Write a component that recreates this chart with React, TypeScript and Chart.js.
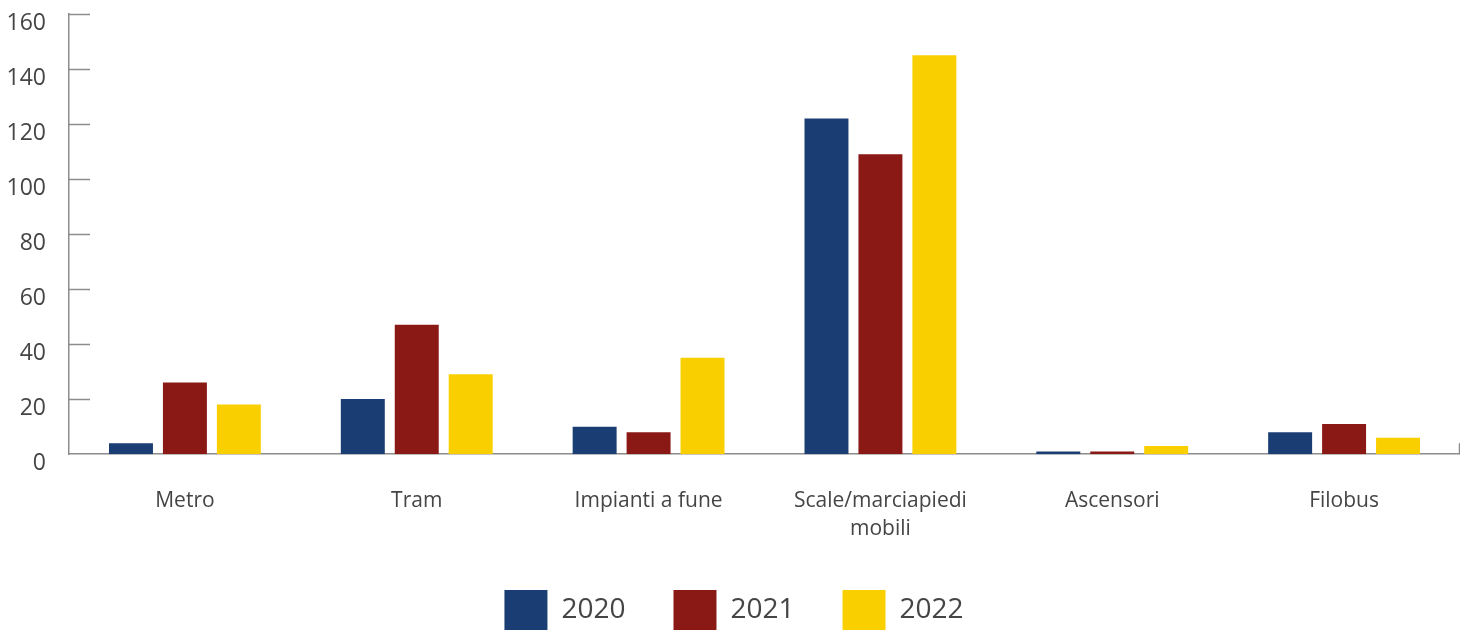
import React, { useEffect, useRef } from "react";
import { Chart, registerables } from "chart.js";

Chart.register(...registerables);

const categories: (string | string[])[] = [
  "Metro",
  "Tram",
  "Impianti a fune",
  ["Scale/marciapiedi", "mobili"],
  "Ascensori",
  "Filobus",
];
const seriesNames = ["2020", "2021", "2022"];
const values2020 = [4, 20, 10, 122, 1, 8];
const values2021 = [26, 47, 8, 109, 1, 11];
const values2022 = [18, 29, 35, 145, 3, 6];
const yTicks = [0, 20, 40, 60, 80, 100, 120, 140, 160];

const COLORS = ["#1a3d73", "#8a1915", "#f9cf00"];
const AXIS = "#8c8c8c";
const TEXT = "#454545";
const FONT = "'Open Sans', sans-serif";

const innerTicks = {
  id: "innerTicks",
  beforeDatasetsDraw(chart: any) {
    const { ctx, chartArea, scales } = chart;
    const y = scales.y;
    ctx.save();
    ctx.strokeStyle = AXIS;
    ctx.lineWidth = 1.5;
    y.ticks.forEach((t: any) => {
      if (t.value === 0) return;
      const py = Math.round(y.getPixelForValue(t.value)) + 0.5;
      ctx.beginPath();
      ctx.moveTo(chartArea.left, py);
      ctx.lineTo(chartArea.left + 21, py);
      ctx.stroke();
    });
    ctx.beginPath();
    ctx.moveTo(chartArea.right - 0.5, chartArea.bottom);
    ctx.lineTo(chartArea.right - 0.5, chartArea.bottom - 11);
    ctx.stroke();
    ctx.restore();
  },
};

export default function App() {
  const ref = useRef<HTMLCanvasElement | null>(null);
  useEffect(() => {
    if (!ref.current) return;
    const data = [values2020, values2021, values2022];
    const chart = new Chart(ref.current, {
      type: "bar",
      data: {
        labels: categories,
        datasets: seriesNames.map((name, i) => ({
          label: name,
          data: data[i],
          backgroundColor: COLORS[i],
          borderWidth: 0,
          categoryPercentage: 0.698,
          barPercentage: 0.815,
        })),
      },
      plugins: [innerTicks],
      options: {
        animation: false,
        responsive: true,
        maintainAspectRatio: false,
        layout: { padding: { left: 0, right: 0, top: 6, bottom: 0 } },
        plugins: {
          tooltip: { enabled: false },
          legend: {
            position: "bottom",
            labels: {
              boxWidth: 43,
              boxHeight: 41,
              padding: 48,
              color: TEXT,
              font: { family: FONT, size: 28 },
            },
          },
        },
        scales: {
          x: {
            grid: { display: false, drawTicks: false },
            border: { display: true, color: AXIS, width: 1.5 },
            ticks: {
              color: TEXT,
              padding: 33,
              font: { family: FONT, size: 21, lineHeight: 1.33 },
            },
            afterFit: (s: any) => {
              s.height = s.height - 34;
            },
          },
          y: {
            min: 0,
            max: 160,
            afterBuildTicks: (scale: any) => {
              scale.ticks = yTicks.map((v) => ({ value: v }));
            },
            afterFit: (s: any) => {
              s.width = 61;
              s.paddingTop = 0;
              s.paddingBottom = 0;
            },
            grid: { display: false, drawTicks: false },
            border: { display: true, color: AXIS, width: 1.5 },
            ticks: {
              color: TEXT,
              padding: 23,
              labelOffset: 9,
              font: { family: FONT, size: 23, lineHeight: 1 },
            },
          },
        },
      },
    });
    return () => chart.destroy();
  }, []);
  return (
    <div style={{ width: 1452, height: 633, position: "relative" }}>
      <canvas ref={ref} />
    </div>
  );
}
